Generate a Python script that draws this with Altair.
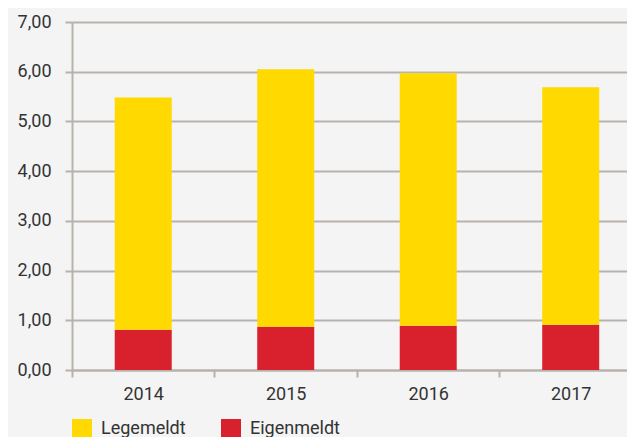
import altair as alt
import pandas as pd

years = ["2014", "2015", "2016", "2017"]
legemeldt = [4.67, 5.18, 5.08, 4.78]
eigenmeldt = [0.81, 0.87, 0.89, 0.91]
series = ["Legemeldt", "Eigenmeldt"]
colors = ["#ffd900", "#d9212d"]
y_ticks = [0, 1, 2, 3, 4, 5, 6, 7]

rows = []
for i, yr in enumerate(years):
    rows.append({"year": yr, "serie": "Eigenmeldt", "value": eigenmeldt[i], "ord": 0})
    rows.append({"year": yr, "serie": "Legemeldt", "value": legemeldt[i], "ord": 1})
df = pd.DataFrame(rows)

GRID = "#b7b2ad"
TXT = "#333333"
FONT = "Roboto"

chart = alt.Chart(df).mark_bar().encode(
    x=alt.X(
        "year:N",
        sort=years,
        scale=alt.Scale(paddingInner=0.6, paddingOuter=0.2474, align=0.606),
        axis=alt.Axis(
            title=None, labelAngle=0, bandPosition=0, tickOffset=-42.75,
            labelOffset=42.75, domainColor=GRID,
            domainWidth=2, tickColor=GRID, tickWidth=2, tickSize=7,
            labelFontSize=18, labelColor=TXT, labelFont=FONT, labelPadding=8,
            grid=False,
        ),
    ),
    y=alt.Y(
        "value:Q",
        stack="zero",
        scale=alt.Scale(domain=[0, 7], nice=False),
        axis=alt.Axis(
            title=None, values=y_ticks,
            labelExpr="replace(format(datum.value, '.2f'), '.', ',')",
            domainColor=GRID, domainWidth=2, tickColor=GRID, tickWidth=2,
            tickSize=7, gridColor=GRID, gridWidth=2, grid=True,
            labelFontSize=18, labelColor=TXT, labelFont=FONT, labelPadding=14,
        ),
    ),
    color=alt.Color(
        "serie:N",
        scale=alt.Scale(domain=series, range=colors),
        legend=alt.Legend(
            title=None, orient="none", legendX=0, legendY=397,
            direction="horizontal", symbolType="square", symbolSize=400,
            symbolStrokeWidth=0, symbolOpacity=1, labelFontSize=18,
            labelColor=TXT, labelFont=FONT, labelOffset=9, columnPadding=35,
            padding=0,
        ),
    ),
    order=alt.Order("ord:Q"),
).properties(
    width=555,
    height=348,
    autosize=alt.AutoSizeParams(type="none"),
    padding={"left": 64, "top": 14, "right": 0, "bottom": 67},
    background="#f4f4f4",
).configure_view(stroke=None)

chart.save("out.html", embed_options={"renderer": "svg", "actions": False})
